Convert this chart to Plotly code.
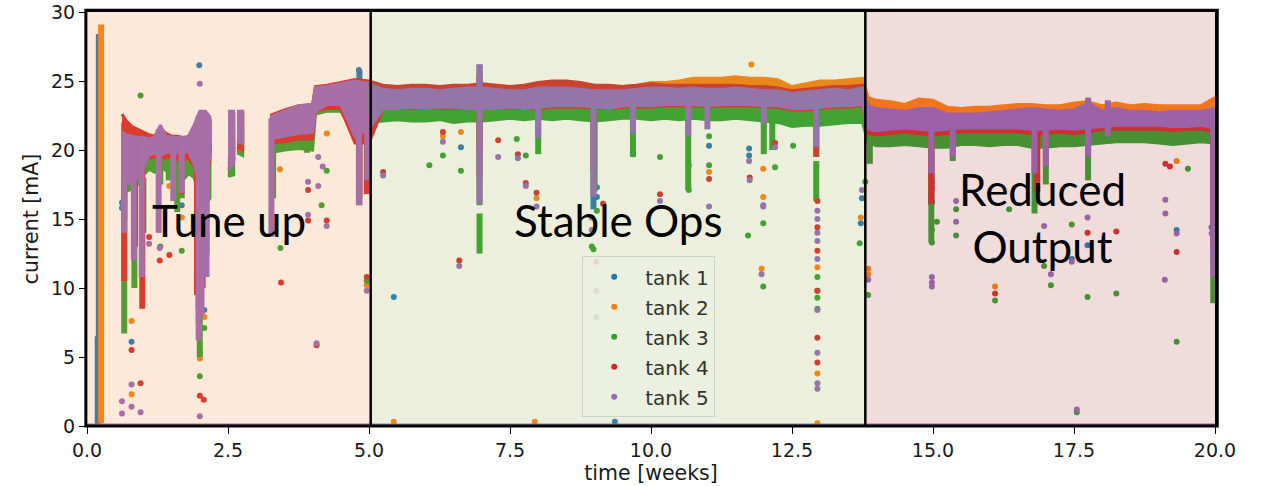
import plotly.graph_objects as go

# ---------------- data ----------------
tank_names = ["tank 1", "tank 2", "tank 3", "tank 4", "tank 5"]
tank_colors = ["#1f77b4", "#ff7f0e", "#2ca02c", "#d62728", "#9467bd"]

# time grid (weeks) of the dense running band; None = no data (gap)
t_grid = [0.62, 0.7, 0.8, 0.9, 1.0, 1.1, 1.2, 1.3, 1.4, 1.5, 1.6, 1.7, 1.8, 1.9, 2.0, 2.1, 2.18,
          None, 2.50, 2.60, None, 2.66, 2.76, None,
          3.25, 3.5, 3.75, 4.0, 4.05, 4.25, 4.5, 4.75, 5.0,
          5.25, 5.5, 5.75, 6.0, 6.25, 6.5, 6.75, 7.0, 7.25, 7.5,
          7.75, 8.0, 8.25, 8.5, 8.75, 9.0, 9.25, 9.5, 9.75, 10.0,
          10.25, 10.5, 10.75, 11.0, 11.25, 11.5, 11.75, 12.0, 12.25, 12.5,
          12.75, 13.0, 13.25, 13.5, 13.75,
          13.85, 14.0,
          14.25, 14.5, 14.75, 15.0, 15.25, 15.5, 15.75, 16.0, 16.25, 16.5,
          16.75, 17.0, 17.25, 17.5, 17.75, 18.0, 18.25, 18.5, 18.75, 19.0,
          19.25, 19.5, 19.75, 20.0]

# upper / lower edge of each tank's dense band of readings [mA]
t1_hi = [21.0, 20.8, 20.7, 20.7, 20.7, 20.6, 20.7, 21.4, 20.8, 20.7, 20.7, 20.7, 20.8, 21.5, 22.5, 22.5, 22.1,
         None, 22.6, 22.6, None, 22.6, 22.6, None,
         22.4, 22.8, 23.1, 23.2, 24.5, 24.6, 24.8, 25.0, 24.9,
         24.6, 24.5, 24.6, 24.6, 24.5, 24.7, 24.6, 24.7, 24.6, 24.5,
         24.6, 24.8, 24.9, 24.9, 24.8, 24.6, 24.6, 24.5, 24.6, 24.7,
         24.6, 24.6, 24.6, 24.6, 24.6, 24.6, 24.5, 24.5, 24.4, 24.2,
         24.3, 24.4, 24.5, 24.5, 24.6,
         22.7, 22.5,
         22.4, 22.4, 22.5, 22.5, 22.2, 22.2, 22.2, 22.3, 22.3, 22.4,
         22.4, 22.4, 22.3, 22.4, 22.5, 22.5, 22.6, 22.6, 22.6, 22.5,
         22.5, 22.6, 22.6, 22.7]
t1_lo = [17.8, 18.0, 18.3, 18.5, 19.2, 19.8, 19.9, 19.8, 19.9, 20.0, 19.9, 19.9, 20.0, 19.3, 18.0, 18.5, 19.6,
         None, 19.2, 19.3, None, 20.7, 20.6, None,
         20.7, 20.9, 21.1, 21.1, 23.0, 23.2, 23.2, 21.0, 21.0,
         23.2, 23.2, 23.2, 23.2, 23.2, 23.2, 23.2, 23.2, 23.2, 23.2,
         23.2, 23.2, 23.3, 23.3, 23.3, 23.2, 23.2, 23.3, 23.3, 23.3,
         23.3, 23.3, 23.3, 23.3, 23.3, 23.3, 23.3, 23.2, 23.2, 23.1,
         23.1, 23.1, 23.2, 23.2, 23.3,
         21.5, 21.4,
         21.5, 21.5, 21.4, 21.4, 21.5, 21.5, 21.5, 21.5, 21.5, 21.5,
         21.4, 21.4, 21.5, 21.4, 21.5, 21.6, 21.6, 21.6, 21.6, 21.6,
         21.5, 21.6, 21.6, 21.5]

t2_hi = [20.9, 20.7, 20.6, 20.6, 20.6, 20.5, 20.6, 21.3, 20.7, 20.6, 20.6, 20.6, 20.7, 21.4, 22.4, 22.4, 22.0,
         None, 22.5, 22.5, None, 22.5, 22.5, None,
         22.3, 22.7, 23.0, 23.1, 24.4, 24.5, 24.7, 24.9, 24.8,
         24.5, 24.4, 24.5, 24.5, 24.4, 24.5, 24.5, 24.6, 24.5, 24.4,
         24.5, 24.7, 24.8, 24.8, 24.7, 24.6, 24.6, 24.6, 24.7, 24.9,
         24.9, 25.0, 25.2, 25.2, 25.2, 25.3, 25.2, 25.2, 25.1, 24.6,
         24.8, 25.0, 25.0, 25.1, 25.2,
         23.8, 23.6,
         23.5, 23.3, 23.7, 23.6, 23.1, 23.0, 23.1, 23.1, 23.2, 23.3,
         23.3, 23.2, 23.2, 23.4, 23.5, 23.2, 23.4, 23.2, 23.3, 23.2,
         23.2, 23.2, 23.2, 23.8]
t2_lo = [17.9, 18.1, 18.4, 18.6, 19.3, 19.9, 20.0, 19.9, 20.0, 20.1, 20.0, 20.0, 20.1, 19.4, 18.1, 18.6, 19.7,
         None, 19.3, 19.4, None, 20.8, 20.7, None,
         20.8, 21.0, 21.2, 21.2, 23.0, 23.3, 23.3, 21.5, 22.0,
         23.3, 23.3, 23.3, 23.3, 23.3, 23.3, 23.3, 23.3, 23.3, 23.3,
         23.3, 23.3, 23.4, 23.4, 23.4, 23.3, 23.3, 23.4, 23.4, 23.5,
         23.5, 23.5, 23.6, 23.6, 23.6, 23.6, 23.6, 23.5, 23.5, 23.3,
         23.3, 23.4, 23.5, 23.5, 23.6,
         22.0, 22.0,
         22.0, 22.0, 22.0, 22.0, 21.9, 21.9, 21.9, 22.0, 22.0, 22.0,
         22.0, 22.0, 22.0, 22.0, 22.0, 22.0, 22.1, 22.1, 22.1, 22.0,
         22.0, 22.0, 22.0, 22.0]

t3_hi = [20.5, 20.2, 20.0, 19.8, 19.8, 19.9, 20.0, 20.1, 20.0, 20.1, 19.9, 19.8, 19.7, 20.0, 20.8, 20.8, 20.6,
         None, 21.0, 21.0, None, 21.5, 21.5, None,
         21.8, 22.0, 22.3, 22.5, 23.3, 23.3, 23.2, 23.5, 23.6,
         23.3, 23.3, 23.4, 23.4, 23.3, 23.4, 23.4, 23.3, 23.4, 23.4,
         23.4, 23.5, 23.5, 23.5, 23.4, 23.3, 23.4, 23.5, 23.5, 23.5,
         23.5, 23.4, 23.5, 23.4, 23.5, 23.4, 23.4, 23.3, 23.2, 23.0,
         23.0, 23.1, 23.2, 23.2, 23.3,
         21.8, 21.4,
         21.4, 21.4, 21.3, 21.4, 21.3, 21.3, 21.3, 21.4, 21.4, 21.4,
         21.3, 21.3, 21.4, 21.4, 21.4, 21.5, 21.5, 21.5, 21.5, 21.5,
         21.4, 21.5, 21.6, 21.6]
t3_lo = [16.5, 17.0, 17.2, 17.5, 18.2, 18.6, 18.4, 18.8, 18.5, 18.6, 18.2, 17.8, 18.3, 18.0, 16.5, 16.0, 16.5,
         None, 18.1, 18.2, None, 19.8, 19.6, None,
         19.8, 20.0, 20.1, 20.0, 22.6, 22.8, 22.8, 21.0, 22.0,
         22.1, 22.2, 22.1, 22.1, 22.2, 22.0, 22.1, 22.1, 22.2, 22.3,
         22.2, 22.3, 22.2, 22.3, 22.2, 22.1, 22.2, 22.3, 22.3, 22.2,
         22.3, 22.2, 22.3, 22.2, 22.2, 22.3, 22.2, 22.1, 22.0, 21.7,
         21.8, 21.8, 21.9, 22.0, 22.0,
         20.5, 20.3,
         20.3, 20.4, 20.3, 20.2, 20.2, 20.4, 20.4, 20.3, 20.4, 20.4,
         20.2, 20.2, 20.3, 20.3, 20.4, 20.5, 20.6, 20.6, 20.6, 20.5,
         20.4, 20.5, 20.6, 20.5]

t4_hi = [22.6, 22.1, 21.7, 21.5, 21.3, 21.1, 21.0, 21.6, 21.2, 21.0, 21.0, 20.9, 20.9, 21.7, 22.6, 22.7, 22.2,
         None, 22.7, 22.7, None, 22.6, 22.7, None,
         22.5, 22.9, 23.2, 23.3, 24.6, 24.7, 24.9, 25.1, 25.0,
         24.7, 24.6, 24.7, 24.7, 24.6, 24.7, 24.7, 24.8, 24.7, 24.6,
         24.7, 24.9, 25.0, 25.0, 24.9, 24.7, 24.7, 24.6, 24.7, 24.8,
         24.7, 24.7, 24.7, 24.7, 24.7, 24.7, 24.6, 24.6, 24.5, 24.3,
         24.4, 24.5, 24.6, 24.6, 24.7,
         22.8, 22.6,
         22.5, 22.5, 22.6, 22.6, 22.3, 22.3, 22.3, 22.4, 22.4, 22.5,
         22.5, 22.5, 22.4, 22.5, 22.6, 22.6, 22.7, 22.7, 22.7, 22.6,
         22.6, 22.7, 22.7, 22.8]
t4_lo = [17.5, 18.0, 18.5, 18.8, 19.3, 19.4, 19.5, 19.5, 19.4, 19.5, 19.3, 19.3, 19.4, 18.8, 18.0, 18.5, 19.2,
         None, 19.0, 19.2, None, 20.2, 20.0, None,
         20.5, 20.6, 20.8, 20.8, 22.8, 23.0, 23.0, 20.5, 20.5,
         23.0, 23.0, 23.0, 23.0, 23.0, 23.0, 23.0, 23.0, 23.0, 23.0,
         23.0, 23.0, 23.1, 23.1, 23.1, 23.0, 23.0, 23.1, 23.1, 23.1,
         23.2, 23.2, 23.2, 23.1, 23.2, 23.2, 23.2, 23.1, 23.1, 22.9,
         22.9, 23.0, 23.1, 23.1, 23.2,
         21.2, 21.1,
         21.2, 21.3, 21.2, 21.1, 21.2, 21.3, 21.3, 21.3, 21.3, 21.3,
         21.2, 21.2, 21.3, 21.2, 21.3, 21.5, 21.5, 21.5, 21.5, 21.5,
         21.4, 21.5, 21.5, 21.3]

t5_hi = [21.3, 21.1, 21.0, 20.9, 20.9, 20.8, 20.9, 21.8, 21.0, 20.9, 20.9, 20.9, 21.0, 21.8, 22.8, 22.8, 22.4,
         None, 22.8, 22.8, None, 22.8, 22.8, None,
         22.4, 22.8, 23.2, 23.3, 24.5, 24.6, 24.8, 25.0, 24.8,
         24.4, 24.3, 24.4, 24.4, 24.3, 24.4, 24.5, 24.5, 24.4, 24.3,
         24.3, 24.5, 24.5, 24.5, 24.4, 24.3, 24.3, 24.3, 24.4, 24.5,
         24.5, 24.4, 24.5, 24.4, 24.4, 24.5, 24.4, 24.3, 24.3, 24.1,
         24.2, 24.3, 24.4, 24.3, 24.5,
         23.2, 23.0,
         22.9, 22.8, 23.0, 23.0, 22.6, 22.6, 22.6, 22.7, 22.8, 22.9,
         23.0, 22.9, 22.8, 22.9, 23.4, 22.8, 23.0, 22.8, 22.8, 22.7,
         22.8, 22.8, 22.8, 23.0]
t5_lo = [17.2, 17.5, 17.8, 18.0, 18.8, 19.6, 19.8, 19.6, 19.8, 19.9, 19.8, 19.8, 19.9, 19.0, 17.5, 18.0, 19.5,
         None, 18.6, 19.0, None, 20.6, 20.5, None,
         20.8, 21.0, 21.2, 21.3, 22.8, 23.3, 23.3, 21.0, 21.5,
         23.0, 23.0, 23.1, 23.0, 23.1, 23.1, 23.0, 23.0, 23.0, 23.1,
         23.0, 23.1, 23.2, 23.2, 23.2, 23.1, 23.0, 23.2, 23.2, 23.2,
         23.3, 23.3, 23.3, 23.2, 23.3, 23.3, 23.3, 23.2, 23.2, 23.0,
         23.0, 23.1, 23.2, 23.2, 23.3,
         21.5, 21.4,
         21.5, 21.6, 21.5, 21.4, 21.5, 21.6, 21.6, 21.6, 21.6, 21.6,
         21.5, 21.5, 21.6, 21.5, 21.6, 21.7, 21.8, 21.8, 21.8, 21.8,
         21.7, 21.7, 21.8, 21.6]

# short dips / bursts: time [weeks], lowest and highest reading [mA]
t1_dip_t = [0.21, 0.19, 0.66, 1.98, 4.83, 6.96, 8.98, 14.97, 19.97]
t1_dip_lo = [0.3, 0.0, 15.0, 8.5, 16.0, 20.0, 15.7, 16.0, 12.0]
t1_dip_hi = [28.4, 6.5, 20.0, 20.0, 25.8, 26.2, 23.0, 22.0, 22.0]

t2_dip_t = [0.25, 0.66, 1.98, 6.96, 12.93, 14.97]
t2_dip_lo = [0.2, 16.0, 7.5, 20.0, 19.5, 17.0]
t2_dip_hi = [29.1, 21.0, 21.0, 25.0, 24.5, 23.5]

t3_dip_t = [0.66, 0.84, 1.0, 1.3, 1.45, 1.6, 1.68, 2.0, 2.12, 2.55,
            3.3, 3.9, 6.96, 6.96, 8.0, 9.0, 9.68, 10.66, 12.0, 12.15,
            12.93, 13.88, 14.97, 15.35, 16.8, 17.0, 17.75, 19.97]
t3_dip_lo = [6.7, 10.0, 14.0, 17.5, 17.8, 15.5, 16.5, 5.0, 12.5, 18.1,
             16.5, 19.8, 12.5, 16.0, 19.7, 17.0, 19.5, 17.1, 19.7, 20.0,
             16.3, 19.0, 13.3, 19.2, 15.4, 17.5, 17.8, 8.9]
t3_dip_hi = [18.0, 18.0, 18.0, 19.0, 19.0, 19.0, 19.0, 18.5, 18.5, 19.0,
             20.0, 20.5, 15.4, 22.5, 22.5, 22.5, 22.5, 22.5, 22.5, 22.5,
             19.2, 21.5, 20.5, 20.5, 20.5, 20.5, 20.5, 12.0]

t4_dip_t = [0.66, 0.85, 0.98, 1.95, 2.05, 4.83, 4.96, 6.96, 8.98, 12.93, 14.97, 16.85, 19.97]
t4_dip_lo = [10.5, 13.0, 8.5, 9.5, 10.0, 16.5, 16.8, 18.0, 18.5, 19.5, 16.1, 17.0, 13.0]
t4_dip_hi = [22.0, 21.0, 21.0, 21.5, 21.5, 24.0, 24.0, 25.5, 24.0, 24.0, 22.0, 22.0, 22.0]

t5_dip_t = [0.66, 0.83, 0.97, 1.27, 1.53, 1.68, 1.98, 2.03, 2.12, 3.27,
            4.82, 4.97, 6.96, 8.0, 8.98, 9.68, 10.66, 11.0, 12.0, 12.93,
            14.97, 15.35, 16.8, 17.0, 17.75, 18.1, 19.97]
t5_dip_lo = [14.0, 12.0, 10.8, 14.0, 16.3, 16.9, 6.2, 8.0, 10.8, 13.7,
             16.0, 17.8, 16.1, 20.9, 16.6, 21.2, 21.0, 21.5, 21.9, 20.2,
             18.3, 19.5, 18.3, 18.8, 19.5, 21.0, 10.8]
t5_dip_hi = [21.0, 20.5, 20.5, 21.5, 20.5, 20.5, 22.5, 22.5, 22.5, 22.3,
             24.5, 24.5, 26.2, 24.0, 24.0, 24.0, 24.0, 24.0, 24.0, 24.0,
             22.8, 22.5, 22.8, 22.5, 23.8, 23.6, 22.8]

# isolated readings
t1_pts_t = [1.99, 0.79, 1.68, 2.08, 2.08, 4.82, 5.44, 6.63, 9.04, 9.04,
            9.36, 11.03, 11.74, 11.74, 13.72, 13.74, 14.98, 16.07, 17.46, 17.74,
            19.32, 19.94, 0.62, 0.62]
t1_pts_v = [26.15, 6.1, 16.0, 14.5, 8.4, 25.8, 9.35, 20.2, 17.3, 16.6,
            0.3, 20.3, 20.1, 19.6, 14.7, 16.5, 16.2, 12.0, 12.1, 13.1,
            14.2, 14.4, 15.8, 16.2]

t2_pts_t = [0.79, 0.79, 2.0, 2.08, 1.46, 1.68, 3.42, 4.25, 4.96, 5.44,
            7.94, 12.95, 6.31, 6.63, 7.97, 11.78, 11.03, 11.99, 11.99, 11.96,
            13.72, 13.85, 13.85, 16.1, 19.32, 12.95, 12.95]
t2_pts_v = [7.6, 2.3, 4.9, 7.9, 17.4, 15.1, 18.6, 21.2, 10.2, 0.3,
            0.3, 0.2, 21.0, 21.3, 16.5, 26.2, 18.4, 18.65, 16.6, 11.4,
            15.1, 11.4, 11.0, 10.1, 19.2, 11.5, 3.8]

t3_pts_t = [0.95, 2.0, 2.0, 2.08, 1.68, 1.3, 3.43, 4.16, 4.25, 4.96,
            6.07, 6.63, 6.31, 7.78, 7.62, 8.95, 8.98, 9.04, 9.68, 10.16,
            10.67, 10.67, 11.03, 11.03, 11.99, 11.99, 11.72, 12.2, 12.52, 13.7,
            13.8, 13.85, 12.95, 12.95, 12.95, 12.95, 14.98, 14.98, 15.07, 15.41,
            15.41, 16.1, 16.35, 16.97, 17.09, 17.46, 17.74, 18.25, 19.32, 19.52,
            9.03, 17.55]
t3_pts_v = [23.95, 3.6, 5.4, 7.1, 12.7, 13.0, 12.9, 16.0, 18.5, 10.5,
            18.9, 18.5, 19.6, 19.6, 20.8, 13.0, 12.8, 15.6, 19.7, 19.5,
            18.9, 17.1, 18.9, 21.0, 14.7, 10.1, 13.8, 18.75, 20.3, 13.25,
            17.7, 9.5, 10.8, 9.8, 9.3, 8.5, 14.2, 13.3, 14.8, 13.8,
            15.7, 9.1, 15.7, 11.6, 10.2, 14.6, 9.35, 9.6, 6.1, 18.65,
            7.9, 1.0]

t4_pts_t = [0.79, 0.95, 2.0, 2.07, 1.46, 1.29, 1.1, 1.68, 3.92, 3.92,
            4.25, 3.44, 4.07, 4.96, 5.25, 6.31, 6.6, 7.29, 7.64, 7.78,
            7.97, 9.15, 10.16, 11.03, 11.75, 12.2, 12.95, 12.95, 12.95, 12.95,
            12.95, 12.95, 14.98, 14.98, 16.1, 17.74, 18.25, 19.32, 19.12, 19.2,
            9.03]
t4_pts_v = [5.5, 3.1, 2.2, 1.9, 12.4, 12.0, 13.7, 17.0, 17.1, 14.9,
            14.9, 10.4, 5.85, 10.8, 18.4, 21.3, 12.0, 20.7, 19.7, 17.6,
            16.9, 16.1, 16.8, 17.9, 18.0, 20.5, 16.3, 14.4, 12.7, 9.8,
            6.4, 4.6, 17.7, 17.2, 9.6, 14.0, 14.1, 12.6, 19.0, 18.8,
            11.9]

t5_pts_t = [2.0, 0.79, 0.79, 0.95, 0.62, 0.62, 2.0, 1.29, 1.1, 4.1,
            4.18, 3.92, 4.1, 3.92, 4.25, 4.07, 4.96, 5.25, 6.31, 6.6,
            7.29, 7.64, 7.78, 7.97, 8.95, 8.95, 10.16, 11.03, 11.74, 11.75,
            11.99, 11.99, 11.96, 12.2, 12.95, 12.95, 12.95, 12.95, 12.95, 12.95,
            12.95, 12.95, 12.95, 13.74, 13.85, 14.98, 14.98, 14.98, 15.41, 15.41,
            16.97, 17.09, 17.46, 17.74, 17.55, 19.11, 19.12, 19.12, 19.32, 19.94,
            9.03]
t5_pts_v = [24.8, 3.0, 1.4, 1.0, 1.8, 0.9, 0.7, 12.9, 13.2, 19.5,
            18.8, 17.7, 17.4, 15.3, 14.5, 6.0, 9.8, 18.15, 20.6, 11.6,
            19.5, 19.4, 17.4, 15.9, 15.1, 14.2, 16.3, 15.9, 19.2, 17.8,
            16.0, 15.9, 11.0, 20.2, 15.6, 15.0, 14.0, 13.4, 12.1, 8.4,
            5.3, 3.1, 2.7, 17.1, 10.6, 10.8, 10.4, 10.1, 16.3, 14.8,
            14.5, 11.0, 11.9, 15.1, 1.2, 10.6, 16.4, 15.4, 13.95, 13.95,
            9.8]

# readings sitting at zero current (tank 5 drawn last)
zero_t = [0.0, 20.0]
zero_v = [0.0, 0.0]

# operating phases
phase_names = ["Tune up", "Stable Ops", "Reduced<br>Output"]
phase_start = [0.0, 5.03, 13.8]
phase_end = [5.03, 13.8, 20.0]

# ---------------- helpers ----------------
def band_path(t, hi, lo):
    xs, ys, seg = [], [], []

    def flush():
        if seg:
            xs.extend([s[0] for s in seg] + [s[0] for s in reversed(seg)] + [None])
            ys.extend([s[1] for s in seg] + [s[2] for s in reversed(seg)] + [None])

    for ti, h, l in zip(t, hi, lo):
        if ti is None:
            flush()
            seg = []
        else:
            seg.append((ti, h, l))
    flush()
    return xs, ys


def dip_path(t, lo, hi):
    xs, ys = [], []
    for ti, l, h in zip(t, lo, hi):
        xs += [ti, ti, None]
        ys += [l, h, None]
    return xs, ys


bands = [(t1_hi, t1_lo), (t2_hi, t2_lo), (t3_hi, t3_lo), (t4_hi, t4_lo), (t5_hi, t5_lo)]
dips = [(t1_dip_t, t1_dip_lo, t1_dip_hi), (t2_dip_t, t2_dip_lo, t2_dip_hi),
        (t3_dip_t, t3_dip_lo, t3_dip_hi), (t4_dip_t, t4_dip_lo, t4_dip_hi),
        (t5_dip_t, t5_dip_lo, t5_dip_hi)]
points = [(t1_pts_t, t1_pts_v), (t2_pts_t, t2_pts_v), (t3_pts_t, t3_pts_v),
          (t4_pts_t, t4_pts_v), (t5_pts_t, t5_pts_v)]

fig = go.Figure()
for i, name in enumerate(tank_names):
    col = tank_colors[i]
    bx, by = band_path(t_grid, bands[i][0], bands[i][1])
    fig.add_trace(go.Scatter(x=bx, y=by, mode="lines", fill="toself", fillcolor=col,
                             line=dict(color=col, width=3), legendgroup=name,
                             showlegend=False, hoverinfo="skip"))
    dx, dy = dip_path(*dips[i])
    fig.add_trace(go.Scatter(x=dx, y=dy, mode="lines", line=dict(color=col, width=6),
                             legendgroup=name, showlegend=False, hoverinfo="skip"))
    fig.add_trace(go.Scatter(x=points[i][0], y=points[i][1], mode="markers", name=name,
                             legendgroup=name,
                             marker=dict(color=col, size=6, line=dict(width=0))))

fig.add_trace(go.Scatter(x=zero_t, y=zero_v, mode="lines", line=dict(color=tank_colors[4], width=5),
                         showlegend=False, hoverinfo="skip"))

# phase shading (semi-transparent overlay) and separators
shade_colors = ["rgb(245,145,70)", "rgb(155,175,80)", "rgb(185,80,80)"]
shapes = []
for k in range(len(phase_names)):
    shapes.append(dict(type="rect", xref="x", yref="paper", x0=phase_start[k], x1=phase_end[k],
                       y0=0, y1=1, fillcolor=shade_colors[k], opacity=0.2, line=dict(width=0),
                       layer="above"))
for k in range(1, len(phase_names)):
    shapes.append(dict(type="line", xref="x", yref="paper", x0=phase_start[k], x1=phase_start[k],
                       y0=0, y1=1, line=dict(color="black", width=2.5), layer="above"))
shapes.append(dict(type="rect", xref="paper", yref="paper", x0=-0.001, x1=1.002, y0=0, y1=1.004,
                   line=dict(color="black", width=3), layer="above"))

label_x = [(phase_start[0] + phase_end[0]) / 2, 9.43, 16.95]
label_y = [14.9, 14.9, 15.1]
annotations = [dict(x=label_x[k], y=label_y[k], xref="x", yref="y", text=phase_names[k],
                    showarrow=False, font=dict(family="Lato", size=44, color="black"),
                    xanchor="center", yanchor="middle")
               for k in range(len(phase_names))]

tick_font = dict(family="DejaVu Sans", size=19, color="#1a1a1a")
title_font = dict(family="DejaVu Sans", size=20.5, color="#1a1a1a")
fig.update_layout(
    width=1261, height=486,
    margin=dict(l=87, r=46, t=12, b=60),
    paper_bgcolor="white", plot_bgcolor="white",
    shapes=shapes, annotations=annotations,
    showlegend=True,
    legend=dict(x=0.439, y=0.41, xanchor="left", yanchor="top",
                bgcolor="rgba(236,240,224,0.85)", bordercolor="#cfd3c4", borderwidth=1,
                font=dict(family="DejaVu Sans", size=20, color="#30352c"),
                tracegroupgap=1, itemwidth=52),
    xaxis=dict(range=[0, 20], tick0=0, dtick=2.5, tickformat=".1f", ticks="outside",
               ticklen=7, tickcolor="black", showline=True, linecolor="black", mirror=True,
               showgrid=False, zeroline=False, tickfont=tick_font, automargin=False,
               title=dict(text="time [weeks]", font=title_font, standoff=2)),
    yaxis=dict(range=[0, 30], tick0=0, dtick=5, ticks="outside", ticklen=7,
               tickcolor="black", showline=True, linecolor="black", mirror=True,
               showgrid=False, zeroline=False, tickfont=tick_font, automargin=False,
               title=dict(text="current [mA]", font=title_font, standoff=6)),
)

fig.write_html("out.html")
